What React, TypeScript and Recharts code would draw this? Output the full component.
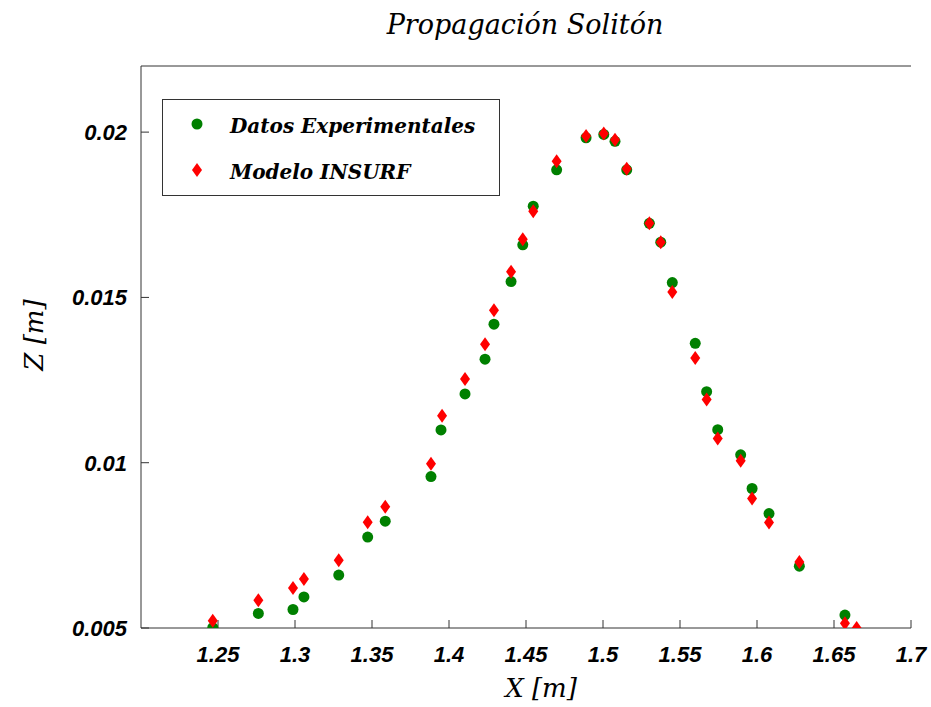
import { Scatter, ScatterChart, XAxis, YAxis } from "recharts";

// Datos Experimentales
const xExp = [
  1.2466, 1.2762, 1.2987, 1.3058, 1.3284, 1.3472, 1.3586, 1.3883, 1.3948, 1.4104,
  1.4234, 1.4292, 1.4403, 1.4479, 1.4547, 1.4699, 1.489, 1.5005, 1.5078, 1.5154,
  1.5301, 1.5375, 1.545, 1.5599, 1.5673, 1.5745, 1.5894, 1.5968, 1.6078, 1.6275,
  1.6571,
];
const zExp = [
  0.00501, 0.00544, 0.00556, 0.00594, 0.0066, 0.00775, 0.00823, 0.00958, 0.01099, 0.01208,
  0.01313, 0.01419, 0.01548, 0.01659, 0.01776, 0.01886, 0.01983, 0.01993, 0.01972, 0.01886,
  0.01724, 0.01667, 0.01545, 0.01361, 0.01215, 0.011, 0.01024, 0.00922, 0.00846, 0.00687,
  0.00539,
];

// Modelo INSURF
const xMod = [
  1.2466, 1.2762, 1.2987, 1.3058, 1.3284, 1.3472, 1.3586, 1.3883, 1.3955, 1.4104,
  1.4234, 1.4292, 1.4403, 1.4479, 1.4547, 1.4699, 1.489, 1.5005, 1.5078, 1.5154,
  1.5301, 1.5375, 1.545, 1.5599, 1.5673, 1.5745, 1.5894, 1.5968, 1.6078, 1.6275,
  1.6571, 1.6647,
];
const zMod = [
  0.00522, 0.00584, 0.00621, 0.00648, 0.00705, 0.0082, 0.00867, 0.00997, 0.01142, 0.01253,
  0.01358, 0.01461, 0.01578, 0.01676, 0.01761, 0.01912, 0.01988, 0.01996, 0.01977, 0.01889,
  0.01724, 0.01667, 0.01516, 0.01317, 0.01191, 0.01073, 0.01006, 0.00892, 0.00819, 0.007,
  0.00514, 0.005,
];

const xTicks = [1.25, 1.3, 1.35, 1.4, 1.45, 1.5, 1.55, 1.6, 1.65, 1.7];
const zTicks = [0.005, 0.01, 0.015, 0.02];
const seriesNames = ["Datos Experimentales", "Modelo INSURF"];

const expData = xExp.map((x, i) => ({ x, z: zExp[i] }));
const modData = xMod.map((x, i) => ({ x, z: zMod[i] }));

const GREEN = "#008000";
const RED = "#ff0000";
const AXIS = "#333";
const tickFont = {
  fontFamily: "Liberation Sans",
  fontStyle: "italic",
  fontWeight: 700,
  fontSize: 22,
  fill: "#000",
};

const diamondPts = (cx: number, cy: number) =>
  `${cx},${cy - 7} ${cx + 5},${cy} ${cx},${cy + 7} ${cx - 5},${cy}`;

const Dot = (p: any) => <circle cx={p.cx} cy={p.cy} r={5.5} fill={GREEN} />;
const Diamond = (p: any) => <polygon points={diamondPts(p.cx, p.cy)} fill={RED} />;

function LegendBox() {
  return (
    <g>
      <rect x={162.5} y={99.5} width={337} height={96} fill="#fff" stroke={AXIS} />
      <circle cx={197} cy={124} r={5.5} fill={GREEN} />
      <polygon points={diamondPts(197, 170)} fill={RED} />
      {seriesNames.map((n, i) => (
        <text
          key={n}
          x={230}
          y={133 + i * 46}
          fontFamily="DejaVu Serif"
          fontStyle="italic"
          fontWeight={700}
          fontSize={20}
          fill="#000"
        >
          {n}
        </text>
      ))}
    </g>
  );
}

export default function App() {
  return (
    <div style={{ position: "absolute", left: 0, top: 0, background: "#fff" }}>
      <ScatterChart
        width={931}
        height={707}
        margin={{ top: 65, right: 20, bottom: 19, left: 41 }}
      >
        <XAxis
          type="number"
          dataKey="x"
          domain={[1.2, 1.7]}
          ticks={xTicks}
          allowDataOverflow
          height={60}
          tickSize={-8}
          tickMargin={26}
          stroke={AXIS}
          tick={tickFont}
        />
        <YAxis
          type="number"
          dataKey="z"
          domain={[0.005, 0.022]}
          ticks={zTicks}
          allowDataOverflow
          width={100}
          tickSize={-8}
          tickMargin={22}
          stroke={AXIS}
          tick={tickFont}
        />
        <XAxis
          xAxisId="top"
          orientation="top"
          type="number"
          domain={[1.2, 1.7]}
          ticks={xTicks}
          allowDataOverflow
          height={1}
          tickSize={-8}
          tick={false}
          stroke={AXIS}
        />
        <YAxis
          yAxisId="right"
          orientation="right"
          type="number"
          domain={[0.005, 0.022]}
          ticks={zTicks}
          allowDataOverflow
          width={0}
          tickSize={-8}
          tick={false}
          stroke={AXIS}
        />
        <Scatter
          name={seriesNames[0]}
          data={expData}
          fill={GREEN}
          shape={Dot}
          isAnimationActive={false}
        />
        <Scatter
          name={seriesNames[1]}
          data={modData}
          fill={RED}
          shape={Diamond}
          isAnimationActive={false}
        />
        <LegendBox />
        <text
          x={525}
          y={34}
          textAnchor="middle"
          fontFamily="DejaVu Serif"
          fontStyle="italic"
          fontSize={27}
          fill="#000"
        >
          Propagación Solitón
        </text>
        <text
          x={541}
          y={697}
          textAnchor="middle"
          fontFamily="DejaVu Serif"
          fontStyle="italic"
          fontSize={26}
          fill="#000"
        >
          X [m]
        </text>
        <text
          x={0}
          y={0}
          transform="translate(43,335) rotate(-90)"
          textAnchor="middle"
          fontFamily="DejaVu Serif"
          fontStyle="italic"
          fontSize={26}
          fill="#000"
        >
          Z [m]
        </text>
      </ScatterChart>
    </div>
  );
}
